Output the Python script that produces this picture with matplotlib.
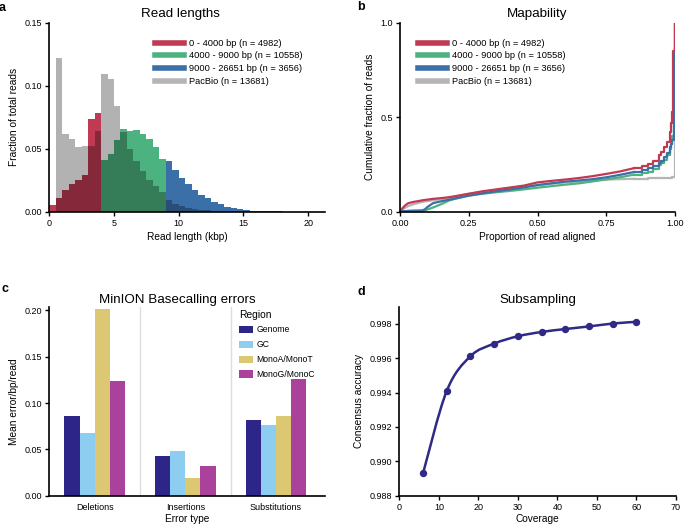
import matplotlib
matplotlib.use('Agg')
import matplotlib.pyplot as plt
import numpy as np
from matplotlib.path import Path
from matplotlib.patches import PathPatch, Patch
from matplotlib.lines import Line2D

plt.rcParams['font.family'] = ['Liberation Sans', 'DejaVu Sans']

# --- a: read length histograms (0.5 kbp bins, fraction of total reads)
bin_w = 0.5
red_start, red_vals = 0.0, [0.005, 0.011, 0.017, 0.0217, 0.0254, 0.0294, 0.0736, 0.0786]
green_start, green_vals = 4.0, [0.041, 0.0455, 0.057, 0.066, 0.064, 0.065, 0.062, 0.058, 0.051, 0.042]
blue_start, blue_vals = 9.0, [0.040, 0.033, 0.0265, 0.022, 0.0172, 0.0132, 0.0106, 0.008, 0.0058, 0.004,
                              0.0027, 0.0019, 0.0011, 0.0008, 0.0005, 0.0004, 0.0003, 0.0002, 0.0001, 0.0001]
pac_start, pac_vals = 0.5, [0.122, 0.0614, 0.058, 0.051, 0.0524, 0.052, 0.064, 0.109, 0.105, 0.084, 0.063,
                            0.050, 0.040, 0.032, 0.025, 0.020, 0.016, 0.009, 0.0065, 0.0045, 0.003, 0.002,
                            0.0015, 0.001]
series_labels = ['0 - 4000 bp (n = 4982)', '4000 - 9000 bp (n = 10558)',
                 '9000 - 26651 bp (n = 3656)', 'PacBio (n = 13681)']

# --- b: cumulative fraction of reads vs proportion of read aligned
prop = [0, .01, .02, .03, .05, .07, .08, .09, .10, .12, .15, .18, .20, .25, .30, .35, .40, .45, .50,
        .55, .60, .65, .70, .75, .80, .85, .88, .90, .92, .94, .95, .96, .97, .98, .985, .99, .992, .995, 1.0]
cum_red = [0, .02, .035, .045, .052, .057, .060, .062, .064, .068, .072, .077, .082, .095, .108, .118,
           .128, .138, .155, .163, .170, .178, .188, .200, .213, .230, .243, .255, .268, .30, .315, .34,
           .37, .42, .47, .53, .85, .85, 1.0]
cum_green = [0, .002, .003, .004, .005, .005, .006, .006, .012, .022, .040, .060, .068, .085, .095, .103,
             .110, .118, .127, .135, .143, .150, .160, .171, .182, .196, .205, .212, .225, .247, .26, .275,
             .30, .33, .36, .40, .40, .62, 1.0]
cum_blue = [0, .002, .003, .004, .005, .006, .006, .012, .025, .045, .055, .064, .070, .085, .097, .108,
            .118, .128, .141, .150, .159, .165, .172, .182, .195, .210, .222, .230, .240, .256, .27, .29,
            .31, .34, .36, .38, .38, .55, 1.0]
cum_pac = [0, .012, .022, .030, .040, .048, .051, .054, .056, .060, .066, .074, .080, .095, .105, .115,
           .125, .133, .140, .148, .155, .160, .165, .170, .172, .174, .175, .176, .177, .178, .178, .179,
           .179, .180, .180, .181, .181, .181, 1.0]
step_from = 0.85  # right tail is drawn as a visible staircase

# --- c: basecalling errors
error_types = ['Deletions', 'Insertions', 'Substitutions']
regions = ['Genome', 'GC', 'MonoA/MonoT', 'MonoG/MonoC']
region_errors = {
    'Genome': [0.086, 0.043, 0.082],
    'GC': [0.068, 0.048, 0.076],
    'MonoA/MonoT': [0.202, 0.019, 0.086],
    'MonoG/MonoC': [0.124, 0.032, 0.126],
}
region_colors = ['#2d2587', '#8ccdf0', '#dcc873', '#aa419b']

# --- d: subsampling
coverage = [6, 12, 18, 24, 30, 36, 42, 48, 54, 60]
accuracy = [0.98930, 0.99410, 0.99612, 0.99685, 0.99728, 0.99753, 0.99770, 0.99785, 0.99802, 0.99812]

c_red, c_green, c_blue = '#bf3a52', '#4cb27f', '#3b6fa8'
c_gray = '#b5b5b5'

fig = plt.figure(figsize=(6.85, 5.26), dpi=100)


def px_axes(left, top, right, bottom):
    return fig.add_axes([left / 685, 1 - bottom / 526, (right - left) / 685, (bottom - top) / 526])


def style(ax):
    for s in ['top', 'right']:
        ax.spines[s].set_visible(False)
    for s in ['left', 'bottom']:
        ax.spines[s].set_linewidth(1.2)
    ax.tick_params(direction='out', length=3, width=1, labelsize=6.5, pad=2)


ax_a = px_axes(49.3, 22.7, 325, 211.7)
ax_b = px_axes(400, 22.7, 675, 211.7)
ax_c = px_axes(49.3, 306.7, 325, 495.7)
ax_d = px_axes(399.3, 306.7, 676, 495.7)

# panel a
for start, vals, col in [(red_start, red_vals, c_red), (green_start, green_vals, c_green),
                         (blue_start, blue_vals, c_blue)]:
    xs = start + bin_w * np.arange(len(vals))
    ax_a.bar(xs, vals, width=bin_w, align='edge', color=col, linewidth=0)
xs = pac_start + bin_w * np.arange(len(pac_vals))
ax_a.bar(xs, pac_vals, width=bin_w, align='edge', color='black', alpha=0.3, linewidth=0)
ax_a.set_xlim(0, 21.3)
ax_a.set_ylim(0, 0.15)
ax_a.set_xticks([0, 5, 10, 15, 20])
ax_a.set_yticks([0, 0.05, 0.10, 0.15])
ax_a.set_yticklabels(['0.00', '0.05', '0.10', '0.15'])
style(ax_a)
ax_a.set_title('Read lengths', fontsize=9.6, x=0.474, pad=4)
ax_a.set_xlabel('Read length (kbp)', fontsize=7.3, labelpad=3)
ax_a.set_ylabel('Fraction of total reads', fontsize=7.3, labelpad=4)
handles = [Line2D([], [], color=c, lw=4) for c in [c_red, c_green, c_blue, c_gray]]
leg_kw = dict(loc='upper left', frameon=False, fontsize=6.7, handlelength=3.1, handletextpad=0.55,
              labelspacing=0.4, borderpad=0, borderaxespad=0)
ax_a.legend(handles, series_labels, bbox_to_anchor=(0.385, 0.915), **leg_kw)

# panel b
prop = np.array(prop)
k = int(np.searchsorted(prop, step_from))
for vals, col in [(cum_pac, c_gray), (cum_green, c_green), (cum_blue, c_blue), (cum_red, c_red)]:
    vals = np.array(vals)
    ax_b.plot(prop[:k + 1], vals[:k + 1], color=col, lw=1.6)
    ax_b.step(prop[k:], vals[k:], where='post', color=col, lw=1.6)
ax_b.set_xlim(0, 1.0)
ax_b.set_ylim(0, 1.0)
ax_b.set_xticks([0, 0.25, 0.5, 0.75, 1.0])
ax_b.set_xticklabels(['0.00', '0.25', '0.50', '0.75', '1.00'])
ax_b.set_yticks([0, 0.5, 1.0])
ax_b.set_yticklabels(['0.0', '0.5', '1.0'])
style(ax_b)
ax_b.set_title('Mapability', fontsize=9.6, pad=4)
ax_b.set_xlabel('Proportion of read aligned', fontsize=7.3, labelpad=3)
ax_b.set_ylabel('Cumulative fraction of reads', fontsize=7.3, labelpad=4)
handles = [Line2D([], [], color=c, lw=4) for c in [c_red, c_green, c_blue, c_gray]]
ax_b.legend(handles, series_labels, bbox_to_anchor=(0.066, 0.915), **leg_kw)

# panel c
bw = 0.167
x = np.arange(len(error_types))
for i, (reg, col) in enumerate(zip(regions, region_colors)):
    ax_c.bar(x + (i - 1.5) * bw, region_errors[reg], width=bw, color=col, linewidth=0, label=reg)
for xv in [0.5, 1.5]:
    ax_c.axvline(xv, color='#dddddd', lw=1, zorder=0)
ax_c.set_xlim(-0.5, 2.54)
ax_c.set_ylim(0, 0.204)
ax_c.set_xticks(x)
ax_c.set_xticklabels(error_types)
ax_c.set_yticks([0, 0.05, 0.10, 0.15, 0.20])
ax_c.set_yticklabels(['0.00', '0.05', '0.10', '0.15', '0.20'])
style(ax_c)
ax_c.tick_params(axis='x', length=0, pad=5)
ax_c.set_title('MinION Basecalling errors', fontsize=9.6, x=0.465, pad=3)
ax_c.set_xlabel('Error type', fontsize=7.3, labelpad=2)
ax_c.set_ylabel('Mean error/bp/read', fontsize=7.3, labelpad=4)
ax_c.legend(loc='upper left', bbox_to_anchor=(0.688, 0.985), frameon=False, fontsize=6.2,
            title='Region', title_fontsize=7.4, alignment='left', handlelength=1.6, handleheight=0.9,
            handletextpad=0.4, labelspacing=0.68, borderpad=0, borderaxespad=0)

# panel d: smooth line through points (Catmull-Rom as cubic Bezier path)
cx = np.array(coverage, dtype=float)
cy = np.array(accuracy)
pts = np.column_stack([cx, cy])
ext = np.vstack([pts[0], pts, pts[-1]])
verts = [pts[0]]
codes = [Path.MOVETO]
for i in range(len(pts) - 1):
    p0, p1, p2, p3 = ext[i], ext[i + 1], ext[i + 2], ext[i + 3]
    verts += [p1 + (p2 - p0) / 6, p2 - (p3 - p1) / 6, p2]
    codes += [Path.CURVE4] * 3
line_col = '#2e2a86'
ax_d.add_patch(PathPatch(Path(verts, codes), facecolor='none', edgecolor=line_col, lw=1.8))
ax_d.plot(coverage, accuracy, 'o', color=line_col, ms=4.3)
ax_d.set_xlim(0, 70)
ax_d.set_ylim(0.988, 0.999)
ax_d.set_xticks(range(0, 71, 10))
ax_d.set_yticks([0.988, 0.990, 0.992, 0.994, 0.996, 0.998])
ax_d.set_yticklabels(['0.988', '0.990', '0.992', '0.994', '0.996', '0.998'])
style(ax_d)
ax_d.set_title('Subsampling', fontsize=9.6, pad=3)
ax_d.set_xlabel('Coverage', fontsize=7.3, labelpad=2)
ax_d.set_ylabel('Consensus accuracy', fontsize=7.3, labelpad=4)

for lbl, px, py in [('a', 2.5, 8), ('b', 360.7, 7), ('c', 5, 288.5), ('d', 361.7, 291.7)]:
    fig.text(px / 685, 1 - py / 526, lbl, fontsize=9, fontweight='bold', ha='center', va='center')

fig.savefig('out.png', dpi=100)
